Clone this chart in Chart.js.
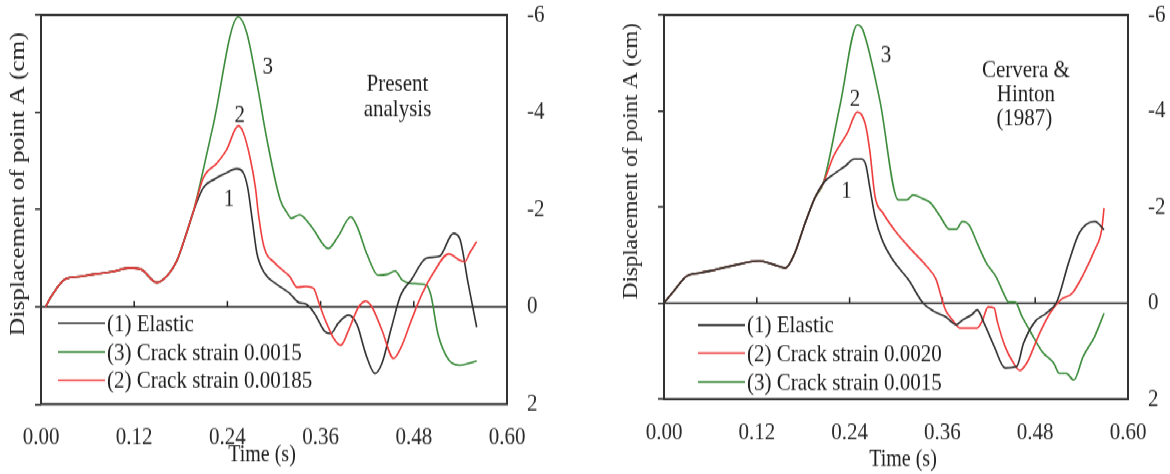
<!DOCTYPE html>
<html>
<head>
<meta charset="utf-8">
<script src="https://cdn.jsdelivr.net/npm/chart.js@4.4.1/dist/chart.umd.min.js"></script>
<style>
  html, body { margin: 0; padding: 0; background: #fff; overflow: hidden; }
  /* the source figure is stretched a little vertically, so draw at 412px and stretch */
  #stage { position: absolute; left: 0; top: 0; width: 1170px; height: 412px; transform: scale(1, 1.1505); transform-origin: 0 0; }
  .panel { position: absolute; top: 0; width: 585px; height: 412px; }
  #left { left: 0; }
  #right { left: 585px; }
</style>
</head>
<body>
<div id="stage">
  <div class="panel" id="left"><canvas id="presentChart"></canvas></div>
  <div class="panel" id="right"><canvas id="cerveraChart"></canvas></div>
</div>
<script>
// ---- data: time (s) and displacement of point A (cm) ----
const timeTicks = [0, 0.12, 0.24, 0.36, 0.48, 0.60];
const dispTicks = [-6, -4, -2, 0, 2];

// Present analysis: part common to all three curves
const presentOnsetTime = [0.006, 0.013, 0.032, 0.049, 0.068, 0.091, 0.115, 0.130, 0.149, 0.163, 0.175, 0.185, 0.196];
const presentOnsetDisp = [0, -0.21, -0.58, -0.62, -0.67, -0.72, -0.80, -0.76, -0.50, -0.65, -0.95, -1.40, -1.95];

const presentElasticTime = [0.209, 0.223, 0.237, 0.252, 0.260, 0.266, 0.272, 0.278, 0.288, 0.303, 0.320, 0.332, 0.341, 0.352, 0.365, 0.373, 0.383, 0.396, 0.407, 0.418, 0.430, 0.439, 0.451, 0.463, 0.477, 0.496, 0.513, 0.531, 0.539, 0.550, 0.561];
const presentElasticDisp = [-2.45, -2.62, -2.74, -2.84, -2.77, -2.46, -1.79, -1.10, -0.69, -0.47, -0.28, -0.09, -0.06, 0.13, 0.50, 0.55, 0.33, 0.17, 0.37, 0.96, 1.37, 1.16, 0.44, -0.24, -0.56, -1.00, -1.04, -1.51, -1.41, -0.48, 0.42];

const presentCrack185Time = [0.209, 0.227, 0.239, 0.254, 0.260, 0.269, 0.276, 0.280, 0.287, 0.301, 0.320, 0.330, 0.341, 0.351, 0.358, 0.367, 0.377, 0.386, 0.396, 0.408, 0.418, 0.427, 0.439, 0.454, 0.464, 0.477, 0.491, 0.506, 0.525, 0.539, 0.546, 0.552, 0.561];
const presentCrack185Disp = [-2.65, -2.96, -3.23, -3.72, -3.60, -3.08, -2.46, -1.90, -1.24, -0.90, -0.63, -0.40, -0.42, -0.38, -0.07, 0.31, 0.65, 0.79, 0.48, 0.03, -0.12, 0.03, 0.48, 1.06, 0.82, 0.27, -0.28, -0.72, -1.09, -0.96, -0.93, -1.11, -1.34];

const presentCrack15Time = [0.221, 0.254, 0.265, 0.278, 0.291, 0.308, 0.317, 0.322, 0.333, 0.349, 0.370, 0.383, 0.399, 0.407, 0.420, 0.434, 0.446, 0.456, 0.465, 0.477, 0.496, 0.502, 0.511, 0.525, 0.539, 0.551, 0.561];
const presentCrack15Disp = [-3.68, -5.96, -5.63, -4.60, -3.43, -2.20, -1.93, -1.82, -1.89, -1.63, -1.20, -1.46, -1.85, -1.65, -1.07, -0.65, -0.67, -0.74, -0.55, -0.48, -0.45, -0.24, 0.55, 1.09, 1.20, 1.16, 1.11];

// Cervera & Hinton (1987): common part
const cerveraOnsetTime = [0.000, 0.014, 0.029, 0.046, 0.065, 0.094, 0.123, 0.142, 0.157, 0.169, 0.181, 0.195, 0.206];
const cerveraOnsetDisp = [0, -0.28, -0.56, -0.63, -0.69, -0.80, -0.88, -0.80, -0.73, -1.04, -1.60, -2.19, -2.50];

const cerveraElasticTime = [0.219, 0.234, 0.246, 0.255, 0.261, 0.266, 0.273, 0.282, 0.296, 0.316, 0.335, 0.349, 0.364, 0.378, 0.386, 0.398, 0.405, 0.414, 0.427, 0.441, 0.456, 0.465, 0.480, 0.494, 0.508, 0.523, 0.537, 0.557, 0.569];
const cerveraElasticDisp = [-2.68, -2.85, -3.00, -3.00, -2.88, -2.42, -1.79, -1.32, -0.90, -0.49, 0, 0.17, 0.28, 0.45, 0.35, 0.24, 0.14, 0.42, 0.90, 1.35, 1.32, 0.83, 0.38, 0.21, -0.03, -0.83, -1.46, -1.70, -1.53];

const cerveraCrack20Time = [0.219, 0.237, 0.250, 0.260, 0.266, 0.273, 0.283, 0.301, 0.320, 0.340, 0.352, 0.359, 0.364, 0.373, 0.383, 0.405, 0.412, 0.419, 0.427, 0.431, 0.441, 0.451, 0.460, 0.470, 0.484, 0.499, 0.513, 0.528, 0.542, 0.557, 0.566, 0.569];
const cerveraCrack20Disp = [-3.05, -3.54, -3.98, -3.75, -3.19, -2.21, -1.88, -1.46, -1.11, -0.76, -0.49, -0.10, 0.14, 0.35, 0.52, 0.52, 0.35, 0.08, 0.10, 0.38, 0.90, 1.22, 1.40, 1.22, 0.69, 0.21, -0.07, -0.21, -0.59, -1.11, -1.53, -1.98];

const cerveraCrack15Time = [0.228, 0.250, 0.257, 0.279, 0.303, 0.314, 0.322, 0.335, 0.345, 0.357, 0.369, 0.378, 0.386, 0.395, 0.405, 0.417, 0.429, 0.439, 0.446, 0.454, 0.463, 0.475, 0.489, 0.504, 0.511, 0.520, 0.530, 0.542, 0.557, 0.569];
const cerveraCrack15Disp = [-4.15, -5.79, -5.69, -4.23, -2.15, -2.15, -2.25, -2.17, -2.08, -1.81, -1.54, -1.54, -1.70, -1.61, -1.25, -0.83, -0.56, -0.21, -0.02, -0.02, 0.28, 0.63, 1.01, 1.25, 1.46, 1.46, 1.60, 1.11, 0.69, 0.21];

// curve numbers and notes written on the plots, in data coordinates
const presentNotes = [
  { t: 0.292, d: -4.92, text: '3' },
  { t: 0.256, d: -3.94, text: '2' },
  { t: 0.242, d: -2.20, text: '1' },
  { t: 0.459, d: -4.56, text: 'Present' },
  { t: 0.459, d: -4.05, text: 'analysis' },
];
const cerveraNotes = [
  { t: 0.287, d: -5.15, text: '3' },
  { t: 0.247, d: -4.24, text: '2' },
  { t: 0.236, d: -2.32, text: '1' },
  { t: 0.468, d: -4.85, text: 'Cervera &' },
  { t: 0.468, d: -4.33, text: 'Hinton' },
  { t: 0.466, d: -3.83, text: '(1987)' },
];

const INK = '#2a2a2a';
const BLACK = '#303030';
const RED = '#ee3d3d';
const GREEN = '#3b8b3b';
const SERIF = "'Liberation Serif', 'Times New Roman', serif";

Chart.defaults.font.family = SERIF;
Chart.defaults.color = INK;

const toPoints = (times, disps) => times.map((t, i) => ({ x: t, y: disps[i] }));

const curve = (label, color, times, disps) => ({
  label,
  data: toPoints(times, disps),
  borderColor: color,
  backgroundColor: color,
  borderWidth: 1.6,
  pointRadius: 0,
  fill: false,
  cubicInterpolationMode: 'monotone',
});

// no label overflow padding: the frame position comes from layout.padding and afterFit only
const noOverflow = s => { s.paddingTop = 0; s.paddingBottom = 0; s.paddingLeft = 0; s.paddingRight = 0; };

// zero line with its small ticks, frame, notes, legend and axis titles
const figurePlugin = {
  id: 'figure',
  beforeDatasetsDraw(chart) {
    const { ctx, chartArea: a, scales: { x, y } } = chart;
    const y0 = y.getPixelForValue(0);
    ctx.save();
    ctx.lineWidth = 1.5;
    ctx.strokeStyle = '#222';
    ctx.beginPath();
    ctx.moveTo(a.left, y0);
    ctx.lineTo(a.right, y0);
    timeTicks.forEach(t => {
      if (t > 0 && t < 0.6) {
        const px = x.getPixelForValue(t);
        ctx.moveTo(px, y0);
        ctx.lineTo(px, y0 - 5);
      }
    });
    ctx.stroke();
    ctx.restore();
  },
  afterDatasetsDraw(chart) {
    const { ctx, chartArea: a } = chart;
    ctx.save();
    ctx.strokeStyle = '#333';
    ctx.lineWidth = 2;
    ctx.beginPath();
    ctx.rect(a.left, a.top, a.right - a.left, a.bottom - a.top);
    ctx.stroke();
    ctx.restore();
  },
  afterDraw(chart, args, opts) {
    const { ctx, chartArea: a, scales: { x, y } } = chart;
    ctx.save();
    ctx.fillStyle = '#1e1e1e';
    ctx.textBaseline = 'middle';

    // notes
    ctx.font = `21px ${SERIF}`;
    ctx.textAlign = 'center';
    opts.notes.forEach(n => {
      ctx.fillText(n.text, x.getPixelForValue(n.t), y.getPixelForValue(n.d));
    });

    // legend inside the frame
    ctx.textAlign = 'left';
    opts.legendOrder.forEach((di, row) => {
      const ds = chart.data.datasets[di];
      const ry = a.bottom + opts.legendRows[row];
      ctx.strokeStyle = ds.borderColor;
      ctx.lineWidth = 1.6;
      ctx.beginPath();
      ctx.moveTo(a.left + opts.legendX, ry);
      ctx.lineTo(a.left + opts.legendX + 47, ry);
      ctx.stroke();
      ctx.fillText(ds.label, a.left + opts.legendX + 49, ry + 1);
    });

    // axis titles
    ctx.font = `20px ${SERIF}`;
    ctx.textAlign = 'center';
    ctx.fillText('Time (s)', opts.xTitle[0], opts.xTitle[1]);
    ctx.font = `${opts.yTitleSize}px ${SERIF}`;
    ctx.translate(opts.yTitle[0], opts.yTitle[1]);
    ctx.rotate(-Math.PI / 2);
    ctx.fillText('Displacement of point A (cm)', 0, 0);
    ctx.restore();
  },
};

function makeChart(canvasId, datasets, box, figure) {
  return new Chart(document.getElementById(canvasId), {
    type: 'line',
    data: { datasets },
    plugins: [figurePlugin],
    options: {
      responsive: true,
      maintainAspectRatio: false,
      animation: false,
      layout: { padding: { top: box.top, left: 0, right: 0, bottom: 0 } },
      plugins: {
        legend: { display: false },
        tooltip: { enabled: false },
        figure,
      },
      scales: {
        x: {
          type: 'linear',
          min: 0,
          max: 0.6,
          afterBuildTicks: s => { s.ticks = timeTicks.map(v => ({ value: v })); },
          ticks: {
            font: { size: 21 },
            color: INK,
            padding: box.xPad,
            maxRotation: 0,
            callback: v => v.toFixed(2),
          },
          grid: { display: false, drawTicks: false },
          border: { display: false },
          afterFit: s => { s.height = box.xHeight; noOverflow(s); },
        },
        y: {
          position: 'left',
          min: -6,
          max: 2,
          reverse: true,
          afterBuildTicks: s => { s.ticks = dispTicks.map(v => ({ value: v })); },
          ticks: { display: false },
          grid: { drawOnChartArea: false, drawTicks: true, tickLength: 6, color: INK, lineWidth: 1.5 },
          border: { display: false },
          afterFit: s => { s.width = box.left; noOverflow(s); },
        },
        y2: {
          position: 'right',
          min: -6,
          max: 2,
          reverse: true,
          afterBuildTicks: s => { s.ticks = dispTicks.map(v => ({ value: v })); },
          ticks: { font: { size: 21 }, color: INK, padding: 20 },
          grid: { display: false, drawTicks: false },
          border: { display: false },
          afterFit: s => { s.width = box.right; noOverflow(s); },
        },
      },
    },
  });
}

// Present analysis (red drawn on top along the shared start)
makeChart('presentChart', [
  curve('(2) Crack strain 0.00185', RED,
    presentOnsetTime.concat(presentCrack185Time), presentOnsetDisp.concat(presentCrack185Disp)),
  curve('(1) Elastic', BLACK,
    presentOnsetTime.concat(presentElasticTime), presentOnsetDisp.concat(presentElasticDisp)),
  curve('(3) Crack strain 0.0015', GREEN,
    presentOnsetTime.concat(presentCrack15Time), presentOnsetDisp.concat(presentCrack15Disp)),
], { top: 13, left: 41, right: 78, xHeight: 60.7, xPad: 17 }, {
  notes: presentNotes,
  legendOrder: [1, 2, 0],
  legendX: 17,
  legendRows: [-70.3, -45.3, -20.8],
  xTitle: [262, 396],
  yTitle: [18, 160],
  yTitleSize: 22,
});

// Cervera & Hinton (1987) (black on top along the shared start)
makeChart('cerveraChart', [
  curve('(1) Elastic', BLACK,
    cerveraOnsetTime.concat(cerveraElasticTime), cerveraOnsetDisp.concat(cerveraElasticDisp)),
  curve('(2) Crack strain 0.0020', RED,
    cerveraOnsetTime.concat(cerveraCrack20Time), cerveraOnsetDisp.concat(cerveraCrack20Disp)),
  curve('(3) Crack strain 0.0015', GREEN,
    cerveraOnsetTime.concat(cerveraCrack15Time), cerveraOnsetDisp.concat(cerveraCrack15Disp)),
], { top: 13, left: 79, right: 42, xHeight: 65, xPad: 17 }, {
  notes: cerveraNotes,
  legendOrder: [0, 1, 2],
  legendX: 34,
  legendRows: [-64.4, -40, -15],
  xTitle: [318, 400],
  yTitle: [47, 140],
  yTitleSize: 20,
});
</script>
</body>
</html>
